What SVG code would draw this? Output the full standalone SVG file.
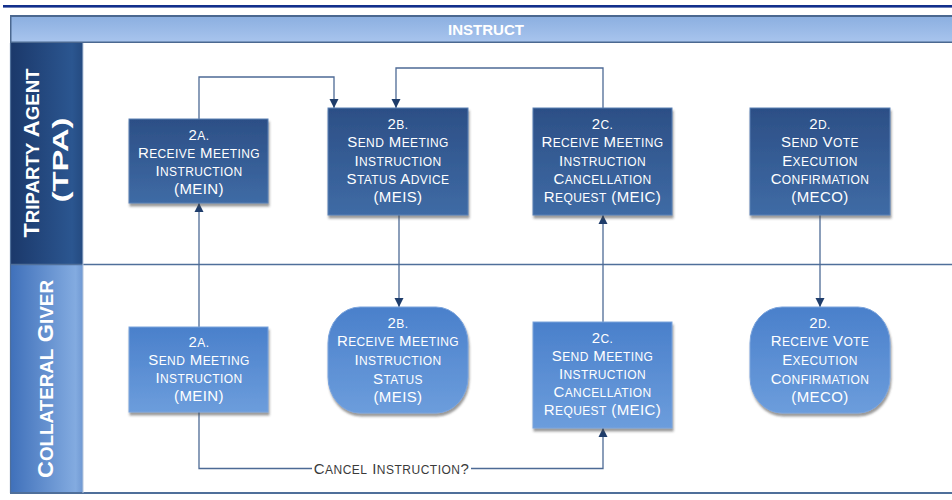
<svg xmlns="http://www.w3.org/2000/svg" width="952" height="500" viewBox="0 0 952 500">
  <defs>
    <linearGradient id="gHeader" x1="0" y1="0" x2="0" y2="1">
      <stop offset="0" stop-color="#8aaee0"/>
      <stop offset="1" stop-color="#a9c5ee"/>
    </linearGradient>
    <linearGradient id="gLaneTop" x1="0" y1="0" x2="1" y2="0">
      <stop offset="0" stop-color="#1b386a"/>
      <stop offset="0.85" stop-color="#2b5690"/>
      <stop offset="1" stop-color="#244a80"/>
    </linearGradient>
    <linearGradient id="gLaneBottom" x1="0" y1="0" x2="1" y2="0">
      <stop offset="0" stop-color="#3f70ba"/>
      <stop offset="0.9" stop-color="#83abe0"/>
      <stop offset="1" stop-color="#6f98d2"/>
    </linearGradient>
    <linearGradient id="gDark" x1="0" y1="0" x2="0" y2="1">
      <stop offset="0" stop-color="#2c4f86"/>
      <stop offset="1" stop-color="#3f6ba5"/>
    </linearGradient>
    <linearGradient id="gLight" x1="0" y1="0" x2="0" y2="1">
      <stop offset="0" stop-color="#4a80cb"/>
      <stop offset="1" stop-color="#6c9ddc"/>
    </linearGradient>
    <filter id="shadow" x="-10%" y="-10%" width="125%" height="130%">
      <feDropShadow dx="1" dy="3" stdDeviation="1.3" flood-color="#4a4a4a" flood-opacity="0.55"/>
    </filter>
    <marker id="arrow" viewBox="0 0 10 10" refX="9" refY="5" markerWidth="10" markerHeight="10" markerUnits="userSpaceOnUse" orient="auto">
      <path d="M0,0.5 L9,5 L0,9.5 z" fill="#1f3d6b"/>
    </marker>
  </defs>
  <style>
    .node-dark { fill: url(#gDark); stroke: #5b80b4; stroke-width: 1; filter: url(#shadow); }
    .node-light { fill: url(#gLight); stroke: #7aa3dc; stroke-width: 1; filter: url(#shadow); }
    .label { font-family: "Liberation Sans", Arial, sans-serif; font-size: 15px; fill: #ffffff; text-anchor: middle; letter-spacing: 0.4px; }
    .sc { font-size: 12px; }
    .lane-label { font-family: "Liberation Sans", Arial, sans-serif; font-weight: bold; font-size: 22px; fill: #ffffff; text-anchor: middle; }
    .lane-label .sc { font-size: 17.6px; }
    .edge { fill: none; stroke: #4d6a95; stroke-width: 1.3; }
    .edge-label { font-family: "Liberation Sans", Arial, sans-serif; font-size: 15px; fill: #3a3a3a; text-anchor: middle; letter-spacing: 0.5px; }
  </style>

  <!-- page rule -->
  <rect x="3" y="5" width="949" height="2.6" fill="#122f8c"/>

  <!-- pool header -->
  <g id="header">
    <rect x="10" y="15" width="945" height="28" fill="url(#gHeader)"/>
    <rect x="10" y="15" width="945" height="2" fill="#4b6890"/>
    <rect x="10" y="41.5" width="945" height="2" fill="#4b6890"/>
    <rect x="10" y="15" width="1.5" height="28" fill="#4b6890"/>
    <text x="486" y="34.5" font-family="'Liberation Sans', Arial, sans-serif" font-weight="bold" font-size="15" fill="#ffffff" text-anchor="middle">INSTRUCT</text>
  </g>

  <!-- swimlanes -->
  <g id="lane-tpa">
    <rect x="83" y="43" width="872" height="221" fill="#ffffff"/>
    <rect x="10" y="43" width="73" height="221" fill="url(#gLaneTop)"/>
    <text class="lane-label" transform="translate(39,153) rotate(-90)" textLength="169" lengthAdjust="spacingAndGlyphs">T<tspan class="sc">RIPARTY</tspan> A<tspan class="sc">GENT</tspan></text>
    <text class="lane-label" transform="translate(68,160) rotate(-90)" textLength="85" lengthAdjust="spacingAndGlyphs">(TPA)</text>
  </g>
  <g id="lane-cg">
    <rect x="83" y="265" width="872" height="228" fill="#ffffff"/>
    <rect x="10" y="265" width="73" height="228" fill="url(#gLaneBottom)"/>
    <text class="lane-label" transform="translate(53,379) rotate(-90)" textLength="198" lengthAdjust="spacingAndGlyphs">C<tspan class="sc">OLLATERAL</tspan> G<tspan class="sc">IVER</tspan></text>
  </g>
  <g id="lane-frame" fill="none" stroke="#4f6f9a">
    <line x1="10" y1="264.5" x2="952" y2="264.5" stroke-width="1.6"/>
    <line x1="10" y1="493" x2="952" y2="493" stroke-width="2"/>
    <line x1="10.5" y1="43" x2="10.5" y2="493" stroke-width="1.2"/>
    <line x1="83" y1="43" x2="83" y2="493" stroke="#b8c8de" stroke-width="1"/>
  </g>

  <!-- connectors -->
  <g id="connectors">
    <path class="edge" d="M199,327 V203" marker-end="url(#arrow)"/>
    <path class="edge" d="M199,119 V77 H334 V108" marker-end="url(#arrow)"/>
    <path class="edge" d="M603,108 V68 H396 V108" marker-end="url(#arrow)"/>
    <path class="edge" d="M399,215 V307" marker-end="url(#arrow)"/>
    <path class="edge" d="M603,322 V215" marker-end="url(#arrow)"/>
    <path class="edge" d="M820,215 V307" marker-end="url(#arrow)"/>
    <path class="edge" d="M199,412 V468.5 H312 M471,468.5 H603 V428" marker-end="url(#arrow)"/>
    <text class="edge-label" x="391.5" y="473.5">C<tspan class="sc">ANCEL</tspan> I<tspan class="sc">NSTRUCTION</tspan>?</text>
  </g>

  <!-- Triparty Agent lane nodes -->
  <g id="tpa-2a">
    <rect class="node-dark" x="129" y="119" width="139" height="84"/>
    <text class="label" x="199" y="140">2<tspan class="sc">A.</tspan></text>
    <text class="label" x="199" y="158">R<tspan class="sc">ECEIVE</tspan> M<tspan class="sc">EETING</tspan></text>
    <text class="label" x="199" y="176">I<tspan class="sc">NSTRUCTION</tspan></text>
    <text class="label" x="199" y="194">(MEIN)</text>
  </g>
  <g id="tpa-2b">
    <rect class="node-dark" x="328" y="108" width="140" height="107"/>
    <text class="label" x="398" y="129">2<tspan class="sc">B.</tspan></text>
    <text class="label" x="398" y="147">S<tspan class="sc">END</tspan> M<tspan class="sc">EETING</tspan></text>
    <text class="label" x="398" y="166">I<tspan class="sc">NSTRUCTION</tspan></text>
    <text class="label" x="398" y="184">S<tspan class="sc">TATUS</tspan> A<tspan class="sc">DVICE</tspan></text>
    <text class="label" x="398" y="202">(MEIS)</text>
  </g>
  <g id="tpa-2c">
    <rect class="node-dark" x="533" y="108" width="139" height="107"/>
    <text class="label" x="602.5" y="129">2<tspan class="sc">C.</tspan></text>
    <text class="label" x="602.5" y="147">R<tspan class="sc">ECEIVE</tspan> M<tspan class="sc">EETING</tspan></text>
    <text class="label" x="602.5" y="166">I<tspan class="sc">NSTRUCTION</tspan></text>
    <text class="label" x="602.5" y="184">C<tspan class="sc">ANCELLATION</tspan></text>
    <text class="label" x="602.5" y="202">R<tspan class="sc">EQUEST</tspan> (MEIC)</text>
  </g>
  <g id="tpa-2d">
    <rect class="node-dark" x="750" y="108" width="140" height="107"/>
    <text class="label" x="820" y="129">2<tspan class="sc">D.</tspan></text>
    <text class="label" x="820" y="147">S<tspan class="sc">END</tspan> V<tspan class="sc">OTE</tspan></text>
    <text class="label" x="820" y="166">E<tspan class="sc">XECUTION</tspan></text>
    <text class="label" x="820" y="184">C<tspan class="sc">ONFIRMATION</tspan></text>
    <text class="label" x="820" y="202">(MECO)</text>
  </g>

  <!-- Collateral Giver lane nodes -->
  <g id="cg-2a">
    <rect class="node-light" x="129" y="327" width="139" height="85"/>
    <text class="label" x="199" y="347">2<tspan class="sc">A.</tspan></text>
    <text class="label" x="199" y="365">S<tspan class="sc">END</tspan> M<tspan class="sc">EETING</tspan></text>
    <text class="label" x="199" y="383">I<tspan class="sc">NSTRUCTION</tspan></text>
    <text class="label" x="199" y="401">(MEIN)</text>
  </g>
  <g id="cg-2b">
    <rect class="node-light" x="328" y="307" width="140" height="106" rx="32" ry="36"/>
    <text class="label" x="398" y="328">2<tspan class="sc">B.</tspan></text>
    <text class="label" x="398" y="346">R<tspan class="sc">ECEIVE</tspan> M<tspan class="sc">EETING</tspan></text>
    <text class="label" x="398" y="365">I<tspan class="sc">NSTRUCTION</tspan></text>
    <text class="label" x="398" y="384">S<tspan class="sc">TATUS</tspan></text>
    <text class="label" x="398" y="402">(MEIS)</text>
  </g>
  <g id="cg-2c">
    <rect class="node-light" x="533" y="322" width="139" height="106"/>
    <text class="label" x="602.5" y="343">2<tspan class="sc">C.</tspan></text>
    <text class="label" x="602.5" y="361">S<tspan class="sc">END</tspan> M<tspan class="sc">EETING</tspan></text>
    <text class="label" x="602.5" y="379">I<tspan class="sc">NSTRUCTION</tspan></text>
    <text class="label" x="602.5" y="397">C<tspan class="sc">ANCELLATION</tspan></text>
    <text class="label" x="602.5" y="415">R<tspan class="sc">EQUEST</tspan> (MEIC)</text>
  </g>
  <g id="cg-2d">
    <rect class="node-light" x="750" y="307" width="140" height="106" rx="32" ry="36"/>
    <text class="label" x="820" y="328">2<tspan class="sc">D.</tspan></text>
    <text class="label" x="820" y="346">R<tspan class="sc">ECEIVE</tspan>  V<tspan class="sc">OTE</tspan></text>
    <text class="label" x="820" y="365">E<tspan class="sc">XECUTION</tspan></text>
    <text class="label" x="820" y="384">C<tspan class="sc">ONFIRMATION</tspan></text>
    <text class="label" x="820" y="402">(MECO)</text>
  </g>
</svg>
